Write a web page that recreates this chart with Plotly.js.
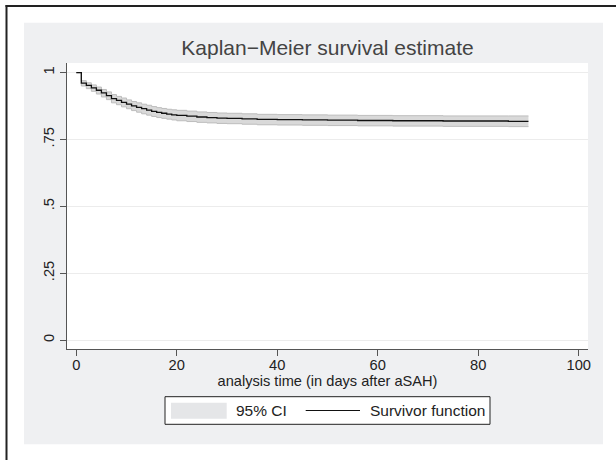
<!DOCTYPE html>
<html>
<head>
<meta charset="utf-8">
<script src="https://cdn.plot.ly/plotly-3.0.1.min.js"></script>
<style>html,body{margin:0;padding:0;background:#fff;}#chart{width:616px;height:460px;}</style>
</head>
<body>
<div id="chart"></div>
<script>
// ---- data ----
var time = [0,1,2,3,4,5,6,7,8,9,10,11,12,13,14,15,16,17,18,19,20,22,24,26,28,30,33,36,40,45,50,56,63,73,86,90];
var survivor = [1,0.961,0.952,0.943,0.934,0.924,0.914,0.903,0.896,0.889,0.882,0.876,0.870,0.865,0.860,0.855,0.851,0.848,0.845,0.842,0.840,0.837,0.834,0.832,0.830,0.829,0.827,0.825,0.824,0.823,0.822,0.821,0.820,0.819,0.818,0.818];
var ciLower = [1,0.950,0.940,0.930,0.920,0.909,0.899,0.887,0.880,0.872,0.865,0.858,0.852,0.846,0.841,0.836,0.832,0.829,0.826,0.823,0.820,0.817,0.814,0.812,0.810,0.809,0.807,0.805,0.804,0.803,0.802,0.801,0.800,0.799,0.798,0.798];
var ciUpper = [1,0.970,0.962,0.954,0.946,0.937,0.928,0.918,0.911,0.905,0.898,0.892,0.887,0.882,0.878,0.873,0.869,0.866,0.863,0.861,0.859,0.856,0.853,0.851,0.849,0.848,0.846,0.844,0.843,0.842,0.841,0.840,0.839,0.838,0.838,0.838];
var xTicks = [0,20,40,60,80,100];
var yTicks = [0,0.25,0.5,0.75,1];
var yTickText = ["0",".25",".5",".75","1"];
var titleText = "Kaplan\u2212Meier survival estimate";
var xTitle = "analysis time (in days after aSAH)";
var ciName = "95% CI";
var lineName = "Survivor function";

// ---- layout geometry (pixels) ----
var W = 616, H = 460;
var ML = 67, MR = 28, MT = 63, MB = 111;
var PW = W - ML - MR, PH = H - MT - MB;
function px(x){ return (x - ML) / PW; }
function py(y){ return (H - MB - y) / PH; }

var FONT = "Liberation Sans, Arial, Helvetica, sans-serif";

var traces = [
  {x: time, y: ciUpper, type: 'scatter', mode: 'lines', line: {shape: 'hv', width: 0}, showlegend: false, hoverinfo: 'skip'},
  {x: time, y: ciLower, type: 'scatter', mode: 'lines', line: {shape: 'hv', width: 0}, fill: 'tonexty', fillcolor: '#d9d9d9', name: ciName, showlegend: false, hoverinfo: 'skip'},
  {x: time, y: ciUpper, type: 'scatter', mode: 'lines', line: {shape: 'hv', width: 1, color: '#bdbdbd'}, showlegend: false, hoverinfo: 'skip'},
  {x: time, y: ciLower, type: 'scatter', mode: 'lines', line: {shape: 'hv', width: 1, color: '#bdbdbd'}, showlegend: false, hoverinfo: 'skip'},
  {x: time, y: survivor, type: 'scatter', mode: 'lines', line: {shape: 'hv', width: 1.3, color: '#111'}, name: lineName, showlegend: false}
];

var shapes = [
  // gray graph region
  {type: 'rect', xref: 'paper', yref: 'paper', x0: px(24), x1: px(603), y0: py(444.3), y1: py(22.7), fillcolor: '#eff0f2', line: {width: 0}, layer: 'below'},
  // white plot region
  {type: 'rect', xref: 'paper', yref: 'paper', x0: 0, x1: 1, y0: 0, y1: 1, fillcolor: '#ffffff', line: {width: 0}, layer: 'below'},
  // outer frame (top and left)
  {type: 'line', xref: 'paper', yref: 'paper', x0: px(5.5), x1: px(616), y0: py(6), y1: py(6), line: {color: '#222', width: 2}},
  {type: 'line', xref: 'paper', yref: 'paper', x0: px(6.5), x1: px(6.5), y0: py(5), y1: py(460), line: {color: '#222', width: 2}},
  // legend box
  {type: 'rect', xref: 'paper', yref: 'paper', x0: px(165), x1: px(490), y0: py(424.3), y1: py(396.7), fillcolor: '#ffffff', line: {color: '#222', width: 1}},
  // legend swatch
  {type: 'rect', xref: 'paper', yref: 'paper', x0: px(171), x1: px(226.7), y0: py(418.7), y1: py(402.7), fillcolor: '#e5e6e8', line: {width: 0}},
  // legend line
  {type: 'line', xref: 'paper', yref: 'paper', x0: px(305.7), x1: px(360), y0: py(410.5), y1: py(410.5), line: {color: '#111', width: 1}}
];

var annotations = [
  {xref: 'paper', yref: 'paper', x: px(234), y: py(410.5), xanchor: 'left', yanchor: 'middle', text: ciName, showarrow: false, font: {family: FONT, size: 15.5, color: '#222'}},
  {xref: 'paper', yref: 'paper', x: px(368), y: py(410.5), xanchor: 'left', yanchor: 'middle', text: lineName, showarrow: false, font: {family: FONT, size: 15.5, color: '#222'}}
];

var layout = {
  width: W, height: H,
  margin: {l: ML, r: MR, t: MT, b: MB, pad: 0},
  paper_bgcolor: '#ffffff',
  plot_bgcolor: 'rgba(0,0,0,0)',
  showlegend: false,
  hovermode: false,
  font: {family: FONT, color: '#222'},
  title: {text: titleText, font: {family: FONT, size: 21, color: '#444'}, x: px(327.5), xref: 'paper', xanchor: 'center', y: 1 - 48/H, yref: 'container', yanchor: 'middle'},
  xaxis: {
    range: [-1.85, 101.85], tickvals: xTicks, ticktext: xTicks.map(String),
    showgrid: false, zeroline: false, showline: true, linecolor: '#555', linewidth: 1,
    ticks: 'outside', ticklen: 6, tickcolor: '#555', tickwidth: 1, ticklabelstandoff: -4,
    tickfont: {family: FONT, size: 14.7, color: '#222'},
    title: {text: xTitle, font: {family: FONT, size: 14.6, color: '#222'}, standoff: 4}
  },
  yaxis: {
    range: [-0.0336, 1.036], tickvals: yTicks, ticktext: yTickText, tickangle: -90,
    showgrid: true, gridcolor: '#ececec', gridwidth: 1, zeroline: false, showline: true, linecolor: '#555', linewidth: 1,
    ticks: 'outside', ticklen: 6, tickcolor: '#555', tickwidth: 1,
    tickfont: {family: FONT, size: 14.7, color: '#222'}
  },
  shapes: shapes,
  annotations: annotations
};

Plotly.newPlot('chart', traces, layout, {displayModeBar: false, staticPlot: true});
</script>
</body>
</html>
